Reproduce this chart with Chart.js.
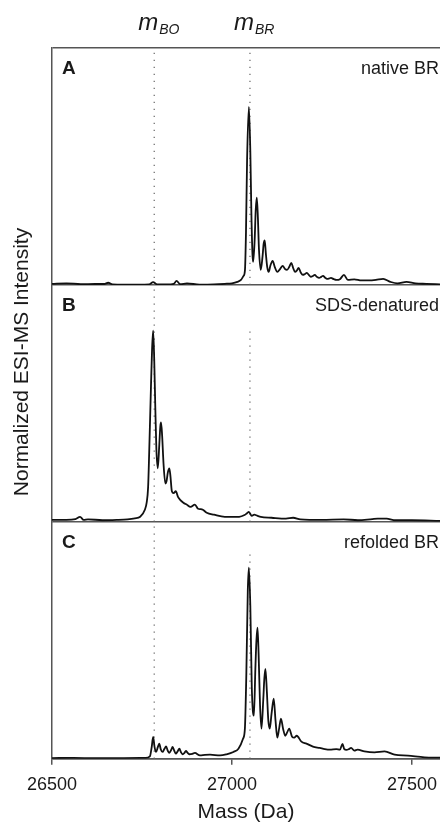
<!DOCTYPE html>
<html>
<head>
<meta charset="utf-8">
<script src="https://cdn.jsdelivr.net/npm/chart.js@4.4.1/dist/chart.umd.min.js"></script>
<style>
  html, body { margin: 0; padding: 0; background: #fff; }
  #wrap { width: 440px; height: 822px; }
</style>
</head>
<body>
<div id="wrap"><canvas id="msChart" width="440" height="822"></canvas></div>
<script>
/* ESI-MS spectra, three stacked panels sharing one mass axis */
const FONT = '"Liberation Sans", Arial, sans-serif';
const INK = '#1a1a1a';
const FRAME = '#555';

const X_MIN = 26500, X_MAX = 27578;
const X_TICKS = [26500, 27000, 27500];
const MARKERS = [26784, 27050];          // m_BO, m_BR
const MARKER_SUBS = ['BO', 'BR'];
const PANELS = ['A', 'B', 'C'];
const PANEL_NAMES = ['native BR', 'SDS-denatured', 'refolded BR'];
const Y_MAX = [133, 124, 124];
const BO_TOP = [133, 124, 124];
const BR_TOP = [133, 100, 107];

// A - native BR
const MASS_A = [26500, 26540, 26580, 26620, 26645, 26656, 26668, 26700, 26740, 26770,
  26781, 26792, 26820, 26838, 26846, 26856, 26875, 26910, 26950, 26980,
  27000, 27015, 27025, 27032, 27036, 27039, 27042, 27047, 27051, 27054,
  27057, 27059, 27063, 27066, 27069, 27072, 27075, 27080, 27085, 27088,
  27091, 27094, 27098, 27102, 27107, 27113, 27119, 27126, 27134, 27141,
  27147, 27153, 27159, 27165, 27170, 27175, 27180, 27185, 27191, 27197,
  27202, 27208, 27214, 27219, 27225, 27230, 27236, 27242, 27248, 27253,
  27259, 27264, 27270, 27275, 27283, 27290, 27300, 27311, 27322, 27340,
  27360, 27380, 27400, 27420, 27440, 27460, 27485, 27510, 27540, 27578];
const INT_A = [0.6, 0.9, 0.4, 0.5, 0.5, 1.2, 0.3, 0.2, 0.2, 0.3,
  1.5, 0.3, 0.3, 0.6, 2.2, 0.4, 0.8, 0.2, 0.3, 0.6,
  0.9, 1.7, 2.8, 5, 8, 30, 70, 100, 75, 40,
  17, 13, 25, 42, 49, 38, 20, 8.4, 16, 23,
  25, 18, 10, 7.3, 11, 13.5, 10, 7.3, 9, 10.7,
  9, 8.4, 10, 12.4, 9.5, 7.3, 8, 9.6, 7, 5.6,
  6, 6.7, 5.5, 4.5, 5, 5.6, 4.5, 3.9, 4.5, 5.1,
  4, 3.4, 3.6, 3.9, 3.2, 2.8, 3.2, 5.6, 2.8, 3.1,
  2.5, 2.5, 2.8, 3.4, 1.7, 0.8, 1.7, 0.8, 0.6, 0.3];

// B - SDS-denatured
const MASS_B = [26500, 26540, 26565, 26578, 26588, 26600, 26640, 26680, 26710, 26730,
  26745, 26758, 26763, 26767, 26770, 26775, 26778, 26781, 26784, 26787,
  26790, 26794, 26798, 26801, 26803, 26806, 26810, 26815, 26818, 26822,
  26826, 26829, 26833, 26838, 26844, 26850, 26856, 26865, 26874, 26885,
  26897, 26906, 26913, 26919, 26930, 26950, 26980, 27000, 27020, 27035,
  27042, 27047, 27055, 27062, 27070, 27080, 27110, 27150, 27170, 27190,
  27250, 27310, 27350, 27390, 27405, 27430, 27450, 27500, 27578];
const INT_B = [1, 1, 1.4, 2.6, 1, 1.3, 0.8, 1, 1.3, 1.8,
  2.6, 6.3, 10, 18, 36, 71, 90, 100, 85, 60,
  38, 28, 40, 50, 52, 45, 30, 20, 21, 26,
  28, 24, 16, 15, 16, 13, 11.5, 10, 9, 7.8,
  9, 6.8, 6.6, 6.3, 4.7, 3.7, 2.6, 2.6, 2.6, 3.5,
  4.5, 5.2, 3.1, 3.7, 3.2, 2.6, 2.1, 1.6, 2.1, 1.3,
  1, 1.3, 0.8, 1.4, 1.6, 1.6, 0.8, 0.8, 0.5];

// C - refolded BR
const MASS_C = [26500, 26560, 26620, 26700, 26760, 26772, 26777, 26781, 26785, 26789,
  26794, 26798, 26802, 26807, 26812, 26817, 26822, 26826, 26831, 26835,
  26840, 26844, 26849, 26854, 26858, 26863, 26868, 26872, 26877, 26881,
  26890, 26897, 26911, 26925, 26939, 26967, 26985, 27004, 27018, 27031,
  27036, 27040, 27044, 27047, 27051, 27055, 27058, 27061, 27065, 27068,
  27071, 27074, 27078, 27082, 27087, 27090, 27093, 27097, 27101, 27105,
  27110, 27116, 27121, 27126, 27131, 27136, 27142, 27148, 27153, 27159,
  27167, 27173, 27180, 27193, 27207, 27225, 27244, 27258, 27272, 27290,
  27300, 27307, 27312, 27318, 27325, 27331, 27340, 27349, 27368, 27396,
  27424, 27452, 27489, 27535, 27578];
const INT_C = [0.3, 0.4, 0.2, 0.3, 0.4, 1.2, 6, 11.4, 6, 3.5,
  6, 7.9, 5, 3.5, 5, 6.4, 4, 3.1, 4.5, 6.1,
  4, 2.6, 3.8, 5.2, 3.5, 2.3, 3, 4, 3, 2.3,
  2.5, 3, 1.7, 2, 2.1, 1.7, 2.3, 3.5, 5.2, 10.5,
  16, 45, 88, 100, 80, 38, 25, 22.5, 47, 62,
  68.6, 55, 28, 15.7, 31, 42, 47, 35, 20, 15.7,
  23.6, 31.4, 20, 11, 15.7, 21, 15.7, 12, 13.6, 15.7,
  11.5, 11, 12, 8.9, 7.9, 6.3, 5.6, 5, 4.7, 5,
  4.7, 7.7, 5, 4.6, 5, 5.6, 4.2, 4.7, 3.8, 3.3,
  3.8, 2.1, 1.6, 0.7, 0.5];

const SERIES = [[MASS_A, INT_A], [MASS_B, INT_B], [MASS_C, INT_C]];
const Y_IDS = ['yA', 'yB', 'yC'];

const datasets = [];
SERIES.forEach(([mass, inten], i) => {
    datasets.push({
        data: mass.map((m, k) => ({ x: m, y: inten[k] })),
        yAxisID: Y_IDS[i],
        borderColor: '#111', borderWidth: 1.8,
        pointRadius: 0, fill: false, cubicInterpolationMode: 'monotone'
    });
    [BO_TOP[i], BR_TOP[i]].forEach((top, j) => {
        datasets.push({
            data: [{ x: MARKERS[j], y: 0 }, { x: MARKERS[j], y: top }],
            yAxisID: Y_IDS[i],
            borderColor: '#666', borderWidth: 1.2, borderDash: [1.2, 5.8],
            pointRadius: 0, fill: false
        });
    });
});

function yScale(i) {
    return {
        type: 'linear', position: 'left', stack: 'panels', stackWeight: 1,
        min: 0, max: Y_MAX[i],
        afterBuildTicks: s => { s.ticks = i === 0 ? [{ value: 0 }, { value: Y_MAX[0] }] : [{ value: 0 }]; },
        ticks: { display: false },
        grid: { drawOnChartArea: true, drawTicks: false, color: FRAME, lineWidth: 1.5 },
        border: { display: true, color: FRAME, width: 1.5 }
    };
}

const textPlugin = {
    id: 'msText',
    afterDraw(chart) {
        const ctx = chart.ctx;
        const xs = chart.scales.x;
        ctx.save();
        ctx.fillStyle = INK;
        Y_IDS.forEach((id, i) => {
            const s = chart.scales[id];
            ctx.textBaseline = 'middle';
            ctx.font = 'bold 19px ' + FONT;
            ctx.textAlign = 'left';
            ctx.fillText(PANELS[i], 62, s.top + 21);
            ctx.font = '18px ' + FONT;
            ctx.textAlign = 'right';
            ctx.fillText(PANEL_NAMES[i], 439, s.top + 21);
        });
        MARKERS.forEach((m, i) => {
            const px = xs.getPixelForValue(m);
            ctx.textAlign = 'left';
            ctx.textBaseline = 'alphabetic';
            ctx.font = 'italic 24px ' + FONT;
            ctx.fillText('m', px - 16, 30);
            const w = ctx.measureText('m').width;
            ctx.font = 'italic 14px ' + FONT;
            ctx.fillText(MARKER_SUBS[i], px - 16 + w + 1, 34);
        });
        ctx.translate(22, 362);
        ctx.rotate(-Math.PI / 2);
        ctx.font = '21px ' + FONT;
        ctx.textAlign = 'center';
        ctx.textBaseline = 'middle';
        ctx.fillText('Normalized ESI-MS Intensity', 0, 0);
        ctx.restore();
    }
};

new Chart(document.getElementById('msChart').getContext('2d'), {
    type: 'line',
    data: { datasets },
    options: {
        responsive: false, animation: false,
        layout: { padding: { left: 52, top: 48, right: 0, bottom: 0 } },
        plugins: { legend: { display: false }, tooltip: { enabled: false } },
        scales: {
            x: {
                type: 'linear', min: X_MIN, max: X_MAX,
                afterBuildTicks: s => { s.ticks = X_TICKS.map(v => ({ value: v })); },
                afterFit: s => { s.paddingRight = 0; },
                ticks: { font: { size: 18, family: FONT }, color: INK, padding: 10, maxRotation: 0, callback: v => String(v) },
                grid: { drawOnChartArea: false, drawTicks: true, tickLength: 6, color: FRAME, lineWidth: 1.5 },
                border: { color: FRAME, width: 1.5 },
                title: { display: true, text: 'Mass (Da)', color: INK, font: { size: 21, family: FONT, lineHeight: 0.75 }, padding: { top: -2, bottom: 2 } }
            },
            yC: yScale(2),
            yB: yScale(1),
            yA: yScale(0)
        }
    },
    plugins: [textPlugin]
});
</script>
</body>
</html>
